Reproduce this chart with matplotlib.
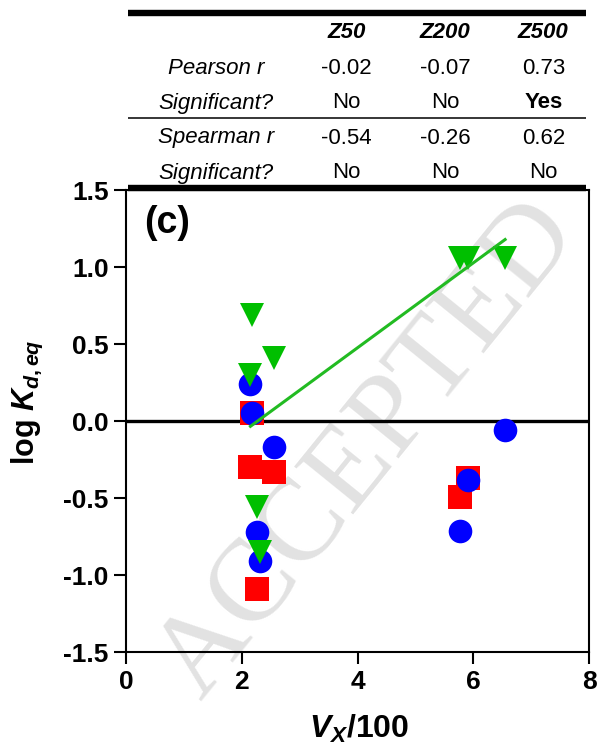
import matplotlib
matplotlib.use("Agg")
import matplotlib.pyplot as plt
import numpy as np

plt.rcParams['font.family'] = 'Liberation Sans'
plt.rcParams['mathtext.fontset'] = 'custom'
plt.rcParams['mathtext.rm'] = 'Liberation Sans:bold'
plt.rcParams['mathtext.it'] = 'Liberation Sans:italic:bold'
plt.rcParams['mathtext.bf'] = 'Liberation Sans:bold'

# molecular volume / 100 of the sorbates
vx = [2.15, 2.18, 2.26, 2.31, 2.55, 5.77, 5.91, 6.55]

# log Kd,eq for the three sorbents (nan = not measured)
logk_z50 = [-0.30, 0.05, -1.09, np.nan, -0.33, -0.49, -0.37, np.nan]
logk_z200 = [0.24, 0.055, -0.72, -0.91, -0.17, -0.71, -0.38, -0.06]
logk_z500 = [0.30, 0.69, -0.56, -0.85, 0.41, 1.06, 1.06, 1.06]

# correlation summary table
sorbents = ['Z50', 'Z200', 'Z500']
pearson_r = [-0.02, -0.07, 0.73]
pearson_sig = ['No', 'No', 'Yes']
spearman_r = [-0.54, -0.26, 0.62]
spearman_sig = ['No', 'No', 'No']

fig = plt.figure(figsize=(6, 7.46), dpi=100)

# watermark behind everything
fig.text(0.335, 0.06, 'ACCEPTED', family='Liberation Serif', fontsize=84,
         color='#e2e2e2', rotation=51, rotation_mode='anchor',
         ha='left', va='baseline', zorder=-1)

ax = fig.add_axes([0.21, 0.1256, 0.7717, 0.6197])
ax.set_facecolor('none')

ax.axhline(0, color='black', lw=2.4, zorder=1)

ms = 17
ax.plot(vx, logk_z50, 's', color='#ff0000', ms=ms, mew=0, zorder=2)
ax.plot(vx, logk_z200, 'o', color='#0000ff', ms=ms, mew=0, zorder=3)
ax.plot(vx, logk_z500, 'v', color='#00bf00', ms=ms, mew=0, zorder=4)

# linear fit for Z500
x5 = np.array(vx)
y5 = np.array(logk_z500)
slope, icpt = np.polyfit(x5, y5, 1)
xf = np.array([x5.min(), x5.max()])
ax.plot(xf, slope * xf + icpt, color='#22bb22', lw=2.2, zorder=5)

ax.set_xlim(0, 8)
ax.set_ylim(-1.5, 1.5)
ax.set_xticks([0, 2, 4, 6, 8])
ax.set_yticks([-1.5, -1.0, -0.5, 0.0, 0.5, 1.0, 1.5])
ax.set_yticklabels(['%.1f' % v for v in ax.get_yticks()])
for s in ax.spines.values():
    s.set_linewidth(1.5)
ax.tick_params(direction='out', length=8.5, width=1.5, labelsize=19, pad=4)
for lab in ax.get_xticklabels() + ax.get_yticklabels():
    lab.set_fontweight('bold')

ax.set_xlabel(r'$V_X$/100', fontsize=23, fontweight='bold')
ax.xaxis.label.set_va('center')
ax.xaxis.set_label_coords(0.503, -0.165)
ax.set_ylabel(r'log $K_{d,eq}$', fontsize=22, fontweight='bold')
ax.yaxis.label.set_va('center')
ax.yaxis.set_label_coords(-0.212, 0.541)

ax.text(0.0886, 0.9286, '(c)', transform=ax.transAxes, fontsize=27,
        fontweight='bold', ha='center', va='center')

# table above the plot, laid out in pixel units
tab = fig.add_axes([0, 0, 1, 1], zorder=5)
tab.set_xlim(0, 600)
tab.set_ylim(746, 0)
tab.axis('off')
tab.patch.set_alpha(0)

x0, x1 = 128, 586
label_x = 216
col_x = [346.7, 445, 543.3]
row_y = [33, 68, 103, 138, 173]
fs = 16

tab.plot([x0, x1], [13.3, 13.3], color='black', lw=4.6, solid_capstyle='butt')
tab.plot([x0, x1], [117.7, 117.7], color='black', lw=1.1, solid_capstyle='butt')
tab.plot([x0, x1], [187.7, 187.7], color='black', lw=4.6, solid_capstyle='butt')

for cx, name in zip(col_x, sorbents):
    tab.text(cx, row_y[0], name, fontsize=fs, fontweight='bold', style='italic',
             ha='center', va='center')

rows = [('Pearson r', ['%.2f' % v for v in pearson_r]),
        ('Significant?', pearson_sig),
        ('Spearman r', ['%.2f' % v for v in spearman_r]),
        ('Significant?', spearman_sig)]
for ry, (label, vals) in zip(row_y[1:], rows):
    tab.text(label_x, ry, label, fontsize=fs, style='italic', ha='center', va='center')
    for cx, v in zip(col_x, vals):
        tab.text(cx, ry, v, fontsize=fs, ha='center', va='center',
                 fontweight='bold' if v == 'Yes' else 'normal')

fig.savefig('out.png', dpi=100)
